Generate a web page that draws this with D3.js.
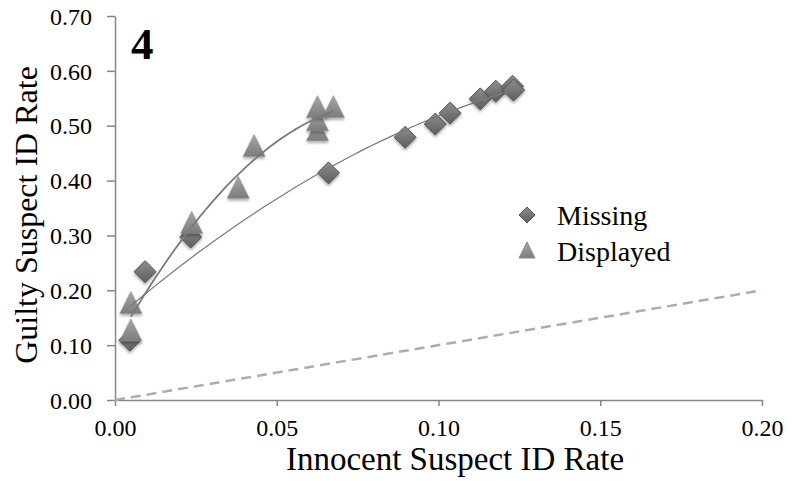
<!DOCTYPE html>
<html>
<head>
<meta charset="utf-8">
<script src="https://cdn.jsdelivr.net/npm/d3@7"></script>
<style>
  body { margin: 0; background: #fff; }
</style>
</head>
<body>
<div id="chart"></div>
<script>
// values
const missingX = [0.0046, 0.0093, 0.0234, 0.0660, 0.0897, 0.0990, 0.1036, 0.1129, 0.1177, 0.1229, 0.1232]
const missingY = [0.109, 0.234, 0.297, 0.414, 0.479, 0.503, 0.523, 0.549, 0.563, 0.572, 0.565]

const displayedX = [0.0049, 0.0049, 0.0237, 0.0381, 0.0430, 0.0626, 0.0626, 0.0626, 0.0675]
const displayedY = [0.126, 0.176, 0.322, 0.386, 0.462, 0.491, 0.509, 0.533, 0.533]

const xTicks = [0, 0.05, 0.10, 0.15, 0.20]
const yTicks = [0, 0.1, 0.2, 0.3, 0.4, 0.5, 0.6, 0.7]
const chanceLine = [[0, 0], [0.2, 0.2]]
const seriesNames = ['Missing', 'Displayed']

const serif = '"Liberation Serif", "Times New Roman", Times, serif'

const width = 792, height = 481
const margin = {top: 16, right: 30, bottom: 81, left: 115}

const svg = d3.select('#chart').append('svg')
  .attr('width', width)
  .attr('height', height)
  .style('font-family', serif)

let defs = svg.append('defs')

let gDia = defs.append('linearGradient').attr('id', 'gDia').attr('x1', 0).attr('y1', 0).attr('x2', 0).attr('y2', 1)
gDia.append('stop').attr('offset', '0%').attr('stop-color', '#8e8e8e')
gDia.append('stop').attr('offset', '100%').attr('stop-color', '#5e5e5e')

let gTri = defs.append('linearGradient').attr('id', 'gTri').attr('x1', 0).attr('y1', 0).attr('x2', 0).attr('y2', 1)
gTri.append('stop').attr('offset', '0%').attr('stop-color', '#a6a6a6')
gTri.append('stop').attr('offset', '100%').attr('stop-color', '#7c7c7c')

defs.append('filter').attr('id', 'shadow')
  .attr('x', '-50%').attr('y', '-50%').attr('width', '200%').attr('height', '200%')
  .append('feDropShadow')
  .attr('dx', 0).attr('dy', 2).attr('stdDeviation', 1.5)
  .attr('flood-color', '#000').attr('flood-opacity', 0.35)

const x = d3.scaleLinear().domain([0, 0.2]).range([margin.left, width - margin.right])
const y = d3.scaleLinear().domain([0, 0.7]).range([height - margin.bottom, margin.top])

// axes
let xAxis = svg.append('g')
  .attr('transform', `translate(0,${height - margin.bottom})`)
  .call(d3.axisBottom(x).tickValues(xTicks).tickFormat(d3.format('.2f')).tickSize(6).tickSizeOuter(0).tickPadding(13))

let yAxis = svg.append('g')
  .attr('transform', `translate(${margin.left},0)`)
  .call(d3.axisLeft(y).tickValues(yTicks).tickFormat(d3.format('.2f')).tickSize(8).tickSizeOuter(0).tickPadding(15))

;[xAxis, yAxis].forEach(a => {
  a.attr('font-family', serif).attr('font-size', 24)
  a.selectAll('path, line').attr('stroke', '#868686').attr('stroke-width', 1.5)
  a.selectAll('text').attr('fill', '#000')
})
xAxis.selectAll('text').attr('dy', '0.71em')
yAxis.selectAll('text').attr('dy', '0.34em')

// chance diagonal
svg.append('path')
  .datum(chanceLine)
  .attr('d', d3.line().x(d => x(d[0])).y(d => y(d[1])))
  .attr('fill', 'none')
  .attr('stroke', '#adadad')
  .attr('stroke-width', 2.5)
  .attr('stroke-dasharray', '10,6')

// quadratic least-squares trendline
function quadFit(xs, ys) {
  let s = [0, 0, 0, 0, 0], t = [0, 0, 0]
  xs.forEach((xv, i) => {
    for (let k = 0; k < 5; k++) s[k] += Math.pow(xv, k)
    for (let k = 0; k < 3; k++) t[k] += ys[i] * Math.pow(xv, k)
  })
  let A = [[s[0], s[1], s[2], t[0]], [s[1], s[2], s[3], t[1]], [s[2], s[3], s[4], t[2]]]
  for (let i = 0; i < 3; i++) {
    for (let j = i + 1; j < 3; j++) {
      let f = A[j][i] / A[i][i]
      for (let k = i; k < 4; k++) A[j][k] -= f * A[i][k]
    }
  }
  let c = [0, 0, 0]
  for (let i = 2; i >= 0; i--) {
    let v = A[i][3]
    for (let k = i + 1; k < 3; k++) v -= A[i][k] * c[k]
    c[i] = v / A[i][i]
  }
  return xv => c[0] + c[1] * xv + c[2] * xv * xv
}

function trend(xs, ys, w) {
  let f = quadFit(xs, ys)
  let ext = d3.extent(xs)
  let pts = d3.range(0, 61).map(i => {
    let xv = ext[0] + (ext[1] - ext[0]) * i / 60
    return [xv, f(xv)]
  })
  svg.append('path')
    .datum(pts)
    .attr('d', d3.line().x(d => x(d[0])).y(d => y(d[1])))
    .attr('fill', 'none')
    .attr('stroke', '#7a7a7a')
    .attr('stroke-width', w)
}

const diamond = 'M0,-11L11,0L0,11L-11,0Z'
const triangle = 'M0,-12L11,10L-11,10Z'

// missing points
svg.append('g')
  .selectAll('path')
  .data(missingX.map((d, i) => [d, missingY[i]]))
  .enter()
  .append('path')
  .attr('d', diamond)
  .attr('transform', d => `translate(${x(d[0])},${y(d[1])})`)
  .attr('fill', 'url(#gDia)')
  .attr('stroke', '#555')
  .attr('stroke-width', 1)
  .attr('filter', 'url(#shadow)')

// displayed points
svg.append('g')
  .selectAll('path')
  .data(displayedX.map((d, i) => [d, displayedY[i]]))
  .enter()
  .append('path')
  .attr('d', triangle)
  .attr('transform', d => `translate(${x(d[0])},${y(d[1])})`)
  .attr('fill', 'url(#gTri)')
  .attr('stroke', '#8a8a8a')
  .attr('stroke-width', 0.5)
  .attr('filter', 'url(#shadow)')

trend(missingX, missingY, 1.2)
trend(displayedX, displayedY, 1.8)

// legend
let legend = svg.append('g').attr('transform', 'translate(527,215)')
let legendShapes = [
  {d: 'M0,-8L8,0L0,8L-8,0Z', fill: 'url(#gDia)', stroke: '#555'},
  {d: 'M0,-9L8,7L-8,7Z', fill: 'url(#gTri)', stroke: '#8a8a8a'}
]
seriesNames.forEach((name, i) => {
  let row = legend.append('g').attr('transform', `translate(0,${i * 36})`)
  row.append('path')
    .attr('d', legendShapes[i].d)
    .attr('fill', legendShapes[i].fill)
    .attr('stroke', legendShapes[i].stroke)
  row.append('text')
    .attr('x', 30)
    .attr('y', 10)
    .style('font-family', serif)
    .style('font-size', '28px')
    .text(name)
})

// panel number
svg.append('text')
  .attr('x', 131)
  .attr('y', 59)
  .style('font-family', serif)
  .style('font-size', '45px')
  .style('font-weight', 'bold')
  .text('4')

// axis titles
svg.append('text')
  .attr('x', 455)
  .attr('y', 470)
  .attr('text-anchor', 'middle')
  .style('font-family', serif)
  .style('font-size', '33px')
  .text('Innocent Suspect ID Rate')

svg.append('text')
  .attr('transform', 'translate(37,215) rotate(-90)')
  .attr('text-anchor', 'middle')
  .style('font-family', serif)
  .style('font-size', '32px')
  .text('Guilty Suspect ID Rate')
</script>
</body>
</html>
